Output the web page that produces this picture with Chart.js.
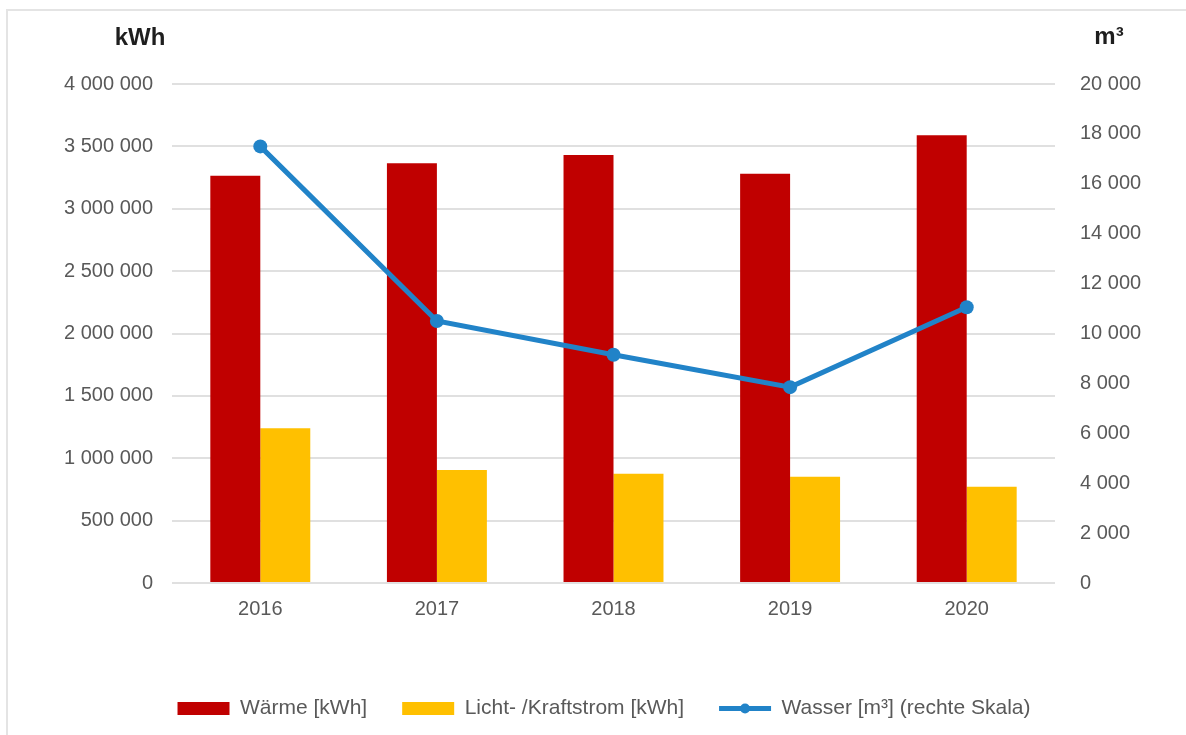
<!DOCTYPE html>
<html>
<head>
<meta charset="utf-8">
<script src="https://cdn.jsdelivr.net/npm/chart.js@4"></script>
<style>
    html, body { margin: 0; padding: 0; background: #fff; }
    #wrap { position: relative; width: 1186px; height: 735px; }
    #frame { position: absolute; left: 6px; top: 9px; right: 0; bottom: 0;
             border-top: 2px solid #e4e4e4; border-left: 2px solid #e4e4e4; }
    canvas { position: absolute; left: 0; top: 0; }
</style>
</head>
<body>
<div id="wrap">
    <div id="frame"></div>
    <canvas id="energyChart" width="1186" height="735"></canvas>
</div>
<script>
const years = ['2016', '2017', '2018', '2019', '2020'];
const waerme = [3265000, 3365000, 3430000, 3280000, 3590000];
const strom = [1240000, 905000, 875000, 852000, 772000];
const wasser = [17500, 10500, 9150, 7850, 11050];

const leftTicks = [0, 500000, 1000000, 1500000, 2000000, 2500000, 3000000, 3500000, 4000000];
const rightTicks = [0, 2000, 4000, 6000, 8000, 10000, 12000, 14000, 16000, 18000, 20000];

const fontFamily = '"Liberation Sans", Arial, sans-serif';
const tickColor = '#595959';
const lineBlue = '#2183c8';

// numbers like 4 000 000
const fmt = v => String(v).replace(/\B(?=(\d{3})+(?!\d))/g, ' ');

// unit labels above both axes + line symbol for the legend
const extras = {
    id: 'extras',
    afterDraw(chart) {
        const ctx = chart.ctx;
        ctx.save();
        ctx.fillStyle = '#1e1e1e';
        ctx.font = 'bold 24px ' + fontFamily;
        ctx.textAlign = 'center';
        ctx.textBaseline = 'alphabetic';
        ctx.fillText('kWh', 140, 45);
        ctx.fillText('m³', 1109, 44);

        const box = chart.legend.legendHitBoxes[2];
        if (box) {
            const y = box.top + box.height / 2;
            ctx.strokeStyle = lineBlue;
            ctx.lineWidth = 5;
            ctx.beginPath();
            ctx.moveTo(box.left, y);
            ctx.lineTo(box.left + 52, y);
            ctx.stroke();
            ctx.fillStyle = lineBlue;
            ctx.beginPath();
            ctx.arc(box.left + 26, y, 5, 0, Math.PI * 2);
            ctx.fill();
        }
        ctx.restore();
    }
};

new Chart(document.getElementById('energyChart'), {
    type: 'bar',
    data: {
        labels: years,
        datasets: [{
            label: 'Wärme [kWh]',
            data: waerme,
            backgroundColor: '#c00000',
            yAxisID: 'y',
            order: 1
        }, {
            label: 'Licht- /Kraftstrom [kWh]',
            data: strom,
            backgroundColor: '#ffc000',
            yAxisID: 'y',
            order: 1
        }, {
            type: 'line',
            label: 'Wasser [m³] (rechte Skala)',
            data: wasser,
            borderColor: lineBlue,
            backgroundColor: lineBlue,
            borderWidth: 5,
            pointRadius: 7,
            pointBorderWidth: 0,
            pointBackgroundColor: lineBlue,
            tension: 0,
            yAxisID: 'y1',
            order: 0
        }]
    },
    options: {
        responsive: false,
        animation: false,
        datasets: {
            bar: { categoryPercentage: 0.566, barPercentage: 1.0 }
        },
        layout: {
            padding: { top: 84, left: 22, right: 0, bottom: 6 }
        },
        scales: {
            x: {
                grid: { display: false, drawTicks: false },
                border: { display: false },
                ticks: { color: tickColor, font: { family: fontFamily, size: 20 }, padding: 14 },
                afterFit: s => { s.height = 80; }
            },
            y: {
                position: 'left',
                min: 0,
                max: 4000000,
                afterBuildTicks: s => { s.ticks = leftTicks.map(v => ({ value: v })); },
                ticks: {
                    color: tickColor,
                    font: { family: fontFamily, size: 20 },
                    padding: 19,
                    callback: v => fmt(v)
                },
                grid: { color: '#e0e0e0', lineWidth: 2, drawTicks: false },
                border: { display: false },
                afterFit: s => { s.width = 150; }
            },
            y1: {
                position: 'right',
                min: 0,
                max: 20000,
                afterBuildTicks: s => { s.ticks = rightTicks.map(v => ({ value: v })); },
                ticks: {
                    color: tickColor,
                    font: { family: fontFamily, size: 20 },
                    padding: 25,
                    callback: v => fmt(v)
                },
                grid: { display: false, drawTicks: false },
                border: { display: false },
                afterFit: s => { s.width = 131; }
            }
        },
        plugins: {
            legend: {
                position: 'bottom',
                labels: {
                    color: tickColor,
                    font: { family: fontFamily, size: 21 },
                    boxWidth: 52,
                    boxHeight: 13,
                    padding: 35,
                    sort: (a, b) => a.datasetIndex - b.datasetIndex,
                    generateLabels: chart => {
                        const items = Chart.defaults.plugins.legend.labels.generateLabels(chart);
                        items.forEach(it => {
                            it.lineWidth = 0;
                            if (it.datasetIndex === 2) {
                                it.fillStyle = 'rgba(0,0,0,0)';
                                it.strokeStyle = 'rgba(0,0,0,0)';
                            }
                        });
                        return items;
                    }
                }
            },
            tooltip: { enabled: false }
        }
    },
    plugins: [extras]
});
</script>
</body>
</html>
